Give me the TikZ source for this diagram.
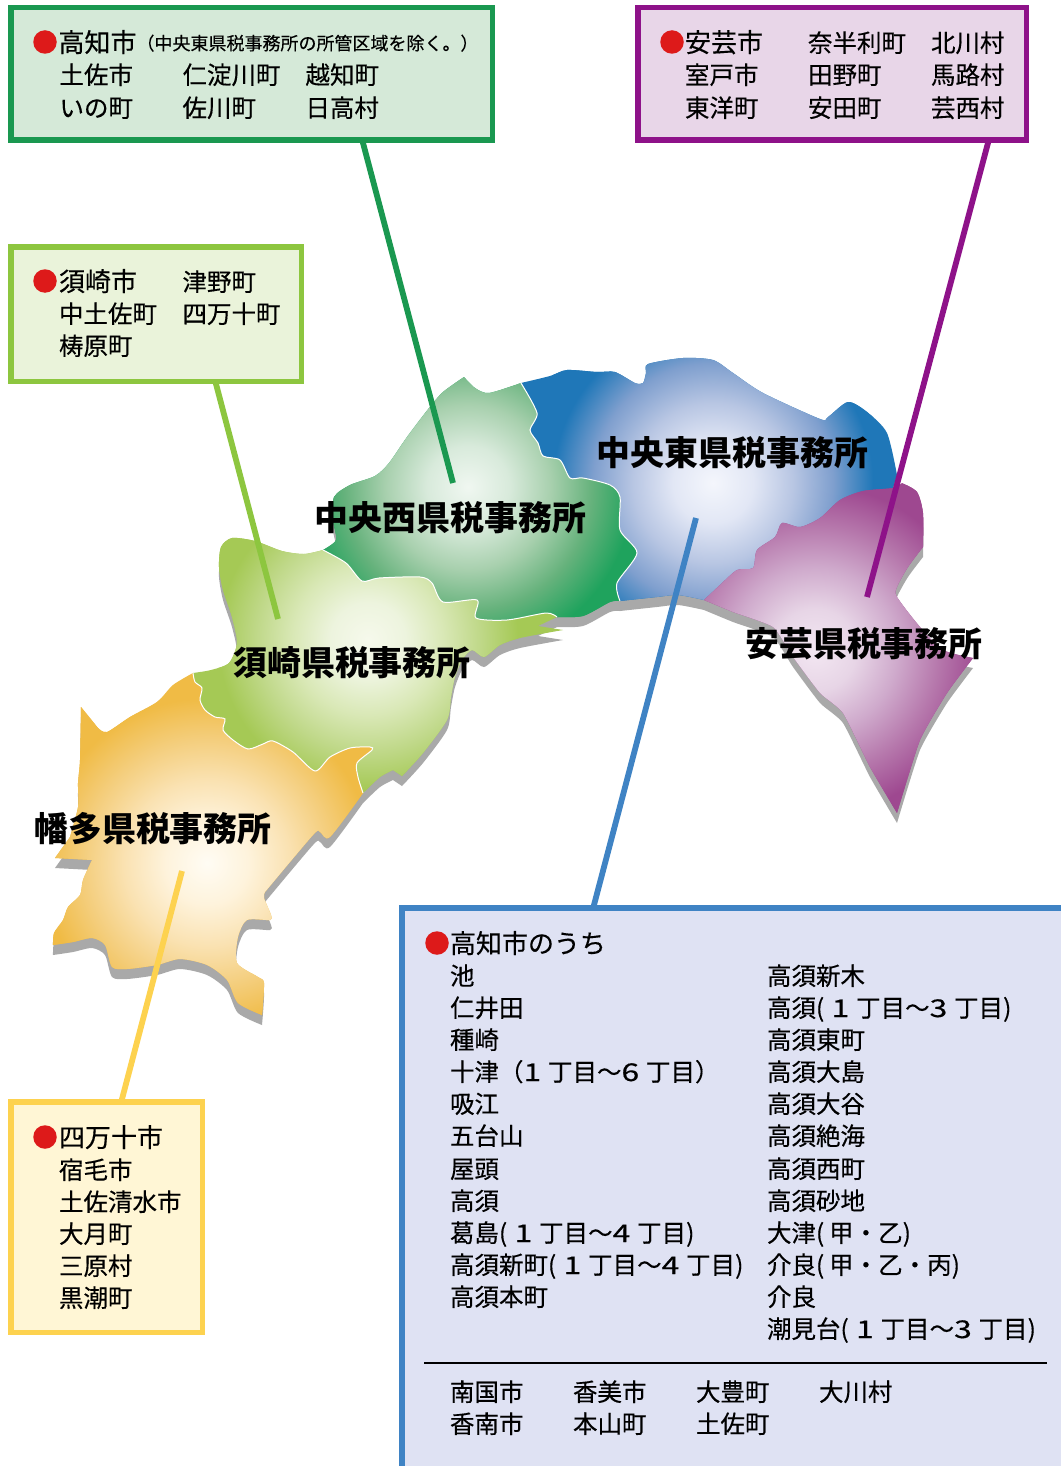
\documentclass[tikz,border=0pt]{standalone}
\usepackage{fontspec}
\setmainfont{Noto Sans CJK JP}[UprightFeatures={FakeBold=0.35}]
\definecolor{cG}{HTML}{1A9850}\definecolor{fG}{HTML}{D5E9D8}
\definecolor{cM}{HTML}{8E1289}\definecolor{fM}{HTML}{E8D6E8}
\definecolor{cY}{HTML}{8DC63F}\definecolor{fY}{HTML}{EAF3DA}
\definecolor{cO}{HTML}{FDD24F}\definecolor{fO}{HTML}{FFF6D5}
\definecolor{cB}{HTML}{3F83C4}\definecolor{fB}{HTML}{DFE2F3}
\definecolor{dotred}{HTML}{DD1A1A}\definecolor{shadowgray}{HTML}{A9A9A9}
% shadings
\definecolor{b0}{HTML}{F4F6FC}\definecolor{b1}{HTML}{E2E7F5}\definecolor{b2}{HTML}{B8C6E3}\definecolor{b3}{HTML}{7F9FCE}\definecolor{b4}{HTML}{1F77B8}
\definecolor{g0}{HTML}{F0F7F1}\definecolor{g1}{HTML}{D8EADB}\definecolor{g2}{HTML}{A8D0AE}\definecolor{g3}{HTML}{66B27C}\definecolor{g4}{HTML}{1FA35D}
\definecolor{s0}{HTML}{F6F9EC}\definecolor{s1}{HTML}{EDF4DE}\definecolor{s2}{HTML}{D9E8B6}\definecolor{s3}{HTML}{BFD888}\definecolor{s4}{HTML}{A5C955}
\definecolor{h0}{HTML}{FFFCF4}\definecolor{h1}{HTML}{FEF3DC}\definecolor{h2}{HTML}{FAE2B2}\definecolor{h3}{HTML}{F4CE7D}\definecolor{h4}{HTML}{F0BB45}
\definecolor{a0}{HTML}{F3E7F2}\definecolor{a1}{HTML}{E7D5E6}\definecolor{a2}{HTML}{CFAACC}\definecolor{a3}{HTML}{B678AC}\definecolor{a4}{HTML}{9E4890}
\newcommand\mkshade[2]{\pgfdeclareradialshading{#1}{\pgfpointorigin}{color(0bp)=(#20);color(6.25bp)=(#21);color(12.5bp)=(#22);color(18.75bp)=(#23);color(25bp)=(#24);color(50bp)=(#24)}}
\mkshade{shB}{b}\mkshade{shG}{g}\mkshade{shS}{s}\mkshade{shH}{h}\mkshade{shA}{a}
% shared borders
\def\bAB{(704,600) (720,585) (737,570) (753,568) (757,550) (775,537) (782,523) (800,527) (820,518) (840,500) (863,491) (893,488) (902,483)}
\def\bGB{(620,601) (617,583) (637,553) (620,530) (620,497) (610,485) (583,478) (570,478) (560,460) (543,456) (538,443) (530,430) (537,413) (521,383)}
\def\bSG{(557,617) (546,613) (507,620) (476,618) (477,600) (443,602) (432,583) (420,577) (379,578) (362,581) (346,563) (323,550)}
\def\bHS{(363,793) (358,777) (357,763) (372,750) (370,747) (350,748) (330,757) (315,771) (293,752) (273,741) (263,744) (248,749) (233,740) (223,730) (225,719) (215,717) (205,710) (200,700) (202,688) (195,682) (193,673)}
\tikzset{sm/.style={smooth,tension=0.45}}
% region outlines
\edef\pBlue{plot[sm] coordinates{(521,383) (550,376) (567,370) (597,372) (615,372) (635,383) (643,383) (646,373) (648,364) (683,358) (713,360) (733,373) (763,393) (820,419) (828,417) (848,402) (867,412) (887,433) (897,475)} -- (893,488) -- (880,520) -- (780,560) -- (720,595) -- (704,600) -- plot[sm] coordinates{(704,600) (678,595) (657,597) (620,601)} -- (612,598) -- (560,560) -- (510,450) -- cycle}
\edef\pAki{plot[sm] coordinates{\bAB} -- plot[sm] coordinates{(902,483) (917,492) (923,513) (923,547)} -- plot[sm] coordinates{(923,547) (908,567) (897,587) (897,597) (920,627) (943,650) (973,658)} -- plot[sm,tension=0.3] coordinates{(973,658) (947,693) (920,740) (897,813)} -- plot[sm,tension=0.3] coordinates{(897,813) (870,767) (843,713) (820,693) (793,657) (773,627) (733,612) (704,600)} -- cycle}
\edef\pGreen{plot[sm] coordinates{(521,383) (489,393) (475,388) (464,377)} -- plot[sm] coordinates{(464,377) (443,392) (429,408) (407,437) (389,463) (375,476) (350,485) (334,497) (333,520) (336,540) (323,550)} -- (350,590) -- (450,625) -- (530,625) -- (557,617) -- plot[sm] coordinates{(557,617) (583,616) (610,602) (620,601)} -- plot[sm] coordinates{\bGB} -- cycle}
\edef\pSusaki{plot[sm] coordinates{(323,550) (304,554) (282,551) (255,541) (232,538) (221,547) (219,567) (223,590) (232,617) (237,643) (229,663) (211,670) (193,673)} -- (190,720) -- (250,770) -- (300,800) -- (363,793) -- plot[sm] coordinates{(363,793) (380,777) (393,770)} -- (402,776) -- plot[sm] coordinates{(402,776) (423,753) (447,720) (451,697) (455,677) (462,660) (472,650) (484,657) (500,645) (520,638) (563,630)} -- (538,626) -- plot[sm] coordinates{\bSG} -- cycle}
\edef\pHata{plot[sm] coordinates{(193,673) (173,685) (157,702) (130,717) (107,732) (98,728)} -- (81,707) -- plot[sm] coordinates{(81,707) (80,760) (78,783) (78,807) (70,837)} -- (55,858) -- (92,860) -- plot[sm] coordinates{(92,860) (83,880) (80,895) (68,907) (63,920) (54,933) (53,945)} -- plot[sm] coordinates{(53,945) (73,942) (92,938) (105,945) (112,967) (127,969) (157,965) (180,959) (207,965) (227,980) (238,1003) (262,1015)} -- plot[sm] coordinates{(262,1015) (264,983) (258,977) (237,963) (238,937) (247,920) (270,920) (271,915) (264,898) (265,892)} -- plot[sm] coordinates{(265,892) (313,835) (320,832) (330,837) (363,793)} -- plot[sm] coordinates{\bHS} -- cycle}
\newcommand\region[6]{\fill[#6] #1;\begin{scope}\clip #1;\shade[shading=#2] ({#3-#5},{#4-#5}) rectangle ({#3+#5},{#4+#5});\end{scope}}
\newcommand\Dg[1]{\makebox[1em][l]{\scalebox{1.3}[1]{#1}}}
\newcommand\Ch[2]{(\hspace{.3em}\Dg{#1}丁目〜\Dg{#2}丁目)}
\begin{document}
\begin{tikzpicture}[x=1pt,y=-1pt,
  box/.style={draw,line width=5.5pt,inner sep=0pt,outer sep=0pt},
  link/.style={line width=5.8pt},
  txt/.style={anchor=base west,inner sep=0pt,outer sep=0pt,font=\fontsize{24.5}{30}\selectfont,text=black},
  head/.style={txt,font=\fontsize{26}{30}\selectfont},
  small/.style={txt,font=\fontsize{18}{22}\selectfont},
  office/.style={inner sep=0pt,outer sep=0pt,font=\fontsize{33.9}{40}\selectfont\bfseries,text=black},
  reddot/.style={circle,fill=dotred,inner sep=0pt,outer sep=0pt,minimum size=23.5pt}]
\useasboundingbox (0,0) rectangle (1061,1466);
\fill[white] (0,0) rectangle (1061,1466);
% shadow
\begin{scope}[yshift=-10pt]
\fill[shadowgray] \pBlue; \fill[shadowgray] \pAki; \fill[shadowgray] \pGreen; \fill[shadowgray] \pSusaki; \fill[shadowgray] \pHata;
\end{scope}
% regions
\region{\pBlue}{shB}{713}{483}{160}{b4}
\region{\pAki}{shA}{815}{650}{165}{a4}
\region{\pGreen}{shG}{468}{487}{165}{g4}
\region{\pSusaki}{shS}{368}{640}{150}{s4}
\region{\pHata}{shH}{207}{863}{165}{h4}
\draw[white,line width=1pt] plot[sm] coordinates{(620,601) (617,583) (637,553) (620,530) (620,497) (610,485) (583,478) (570,478) (560,460) (543,456) (538,443) (530,430) (537,413) (521,383)};
\draw[white,line width=1pt] plot[sm] coordinates{(557,617) (546,613) (507,620) (476,618) (477,600) (443,602) (432,583) (420,577) (379,578) (362,581) (346,563) (323,550)};
\draw[white,line width=1pt] plot[sm] coordinates{(363,793) (358,777) (357,763) (372,750) (370,747) (350,748) (330,757) (315,771) (293,752) (273,741) (263,744) (248,749) (233,740) (223,730) (225,719) (215,717) (205,710) (200,700) (202,688) (195,682) (193,673)};
% boxes
\node[box,draw=cG,fill=fG,minimum width=481.5pt,minimum height=132.5pt] (boxG) at (251.5,74) {};
\node[box,draw=cM,fill=fM,minimum width=388.5pt,minimum height=132.5pt] (boxM) at (832,74) {};
\node[box,draw=cY,fill=fY,minimum width=290.5pt,minimum height=134.5pt] (boxY) at (156,314) {};
\node[box,draw=cO,fill=fO,minimum width=191.5pt,minimum height=230.5pt] (boxO) at (106.5,1217) {};
\node[inner sep=0pt,outer sep=0pt,fill=fB,minimum width=659pt,minimum height=558pt] (boxB) at (731.5,1187) {};
\draw[cB,line width=6pt] (boxB.south west) -- (boxB.north west) -- (boxB.north east);
% connector ends
\coordinate (endG) at (453,483);
\coordinate (endM) at (867,597);
\coordinate (endY) at (278,619);
\coordinate (endO) at (182,871);
\coordinate (endB) at (696,518);
\draw[link,cG] ([xshift=110.8pt]boxG.south) -- (endG);
\draw[link,cM] ([xshift=156.7pt]boxM.south) -- (endM);
\draw[link,cY] ([xshift=59.3pt]boxY.south) -- (endY);
\draw[link,cO] ([xshift=14.8pt]boxO.north) -- (endO);
\draw[link,cB] ([xshift=-138.3pt]boxB.north) -- (endB);
% office labels
\node[office] (lG) at (450.5,518) {中央西県税事務所};
\node[office] (lB) at (732.5,453) {中央東県税事務所};
\node[office] (lS) at (352,663) {須崎県税事務所};
\node[office] (lA) at (864,644) {安芸県税事務所};
\node[office] (lH) at (153,829) {幡多県税事務所};
% box G
\node[reddot] (dG) at (45,42) {};
\node[head] (g11) at (58.5,52) {高知市};
\node[small] (g12) at (136.5,50) {（中央東県税事務所の所管区域を除く。）};
\node[txt] (g21) at (59.5,84) {土佐市};
\node[txt] (g22) at (182.5,84) {仁淀川町};
\node[txt] (g23) at (305.5,84) {越知町};
\node[txt] (g31) at (59.5,117) {いの町};
\node[txt] (g32) at (182.5,117) {佐川町};
\node[txt] (g33) at (305.5,117) {日高村};
% box M
\node[reddot] (dM) at (672,42) {};
\node[head] (m11) at (685,52) {安芸市};
\node[txt] (m12) at (808,52) {奈半利町};
\node[txt] (m13) at (931,52) {北川村};
\node[txt] (m21) at (685,84) {室戸市};
\node[txt] (m22) at (808,84) {田野町};
\node[txt] (m23) at (931,84) {馬路村};
\node[txt] (m31) at (685,117) {東洋町};
\node[txt] (m32) at (808,117) {安田町};
\node[txt] (m33) at (931,117) {芸西村};
% box Y
\node[reddot] (dY) at (45,281) {};
\node[head] (y11) at (59,291) {須崎市};
\node[txt] (y12) at (182.5,291) {津野町};
\node[txt] (y21) at (59,323) {中土佐町};
\node[txt] (y22) at (182.5,323) {四万十町};
\node[txt] (y31) at (59,355) {梼原町};
% box O
\node[reddot] (dO) at (45,1137) {};
\node[head] (o1) at (59,1147) {四万十市};
\node[txt] (o2) at (59,1179) {宿毛市};
\node[txt] (o3) at (59,1211) {土佐清水市};
\node[txt] (o4) at (59,1243) {大月町};
\node[txt] (o5) at (59,1275) {三原村};
\node[txt] (o6) at (59,1307) {黒潮町};
% box B
\node[reddot] (dB) at (437,943) {};
\node[head] (b0) at (450,953) {高知市のうち};
\node[txt] (l1) at (450,985) {池};
\node[txt] (l2) at (450,1017) {仁井田};
\node[txt] (l3) at (450,1049) {種崎};
\node[txt] (l4) at (450,1081) {十津（\Dg{1}丁目〜\Dg{6}丁目）};
\node[txt] (l5) at (450,1113) {吸江};
\node[txt] (l6) at (450,1145) {五台山};
\node[txt] (l7) at (450,1178) {屋頭};
\node[txt] (l8) at (450,1210) {高須};
\node[txt] (l9) at (450,1242) {葛島\Ch{1}{4}};
\node[txt] (l10) at (450,1274) {高須新町\Ch{1}{4}};
\node[txt] (l11) at (450,1306) {高須本町};
\node[txt] (r1) at (767,985) {高須新木};
\node[txt] (r2) at (767,1017) {高須\Ch{1}{3}};
\node[txt] (r3) at (767,1049) {高須東町};
\node[txt] (r4) at (767,1081) {高須大島};
\node[txt] (r5) at (767,1113) {高須大谷};
\node[txt] (r6) at (767,1145) {高須絶海};
\node[txt] (r7) at (767,1178) {高須西町};
\node[txt] (r8) at (767,1210) {高須砂地};
\node[txt] (r9) at (767,1242) {大津(\hspace{.2em}甲・乙)};
\node[txt] (r10) at (767,1274) {介良(\hspace{.2em}甲・乙・丙)};
\node[txt] (r11) at (767,1306) {介良};
\node[txt] (r12) at (767,1338) {潮見台\Ch{1}{3}};
\coordinate (ruleL) at (424,1363);
\coordinate (ruleR) at (1047,1363);
\draw[black,line width=2.5pt] (ruleL) -- (ruleR);
\node[txt] (c11) at (450,1401) {南国市};
\node[txt] (c12) at (573,1401) {香美市};
\node[txt] (c13) at (696,1401) {大豊町};
\node[txt] (c14) at (819,1401) {大川村};
\node[txt] (c21) at (450,1433) {香南市};
\node[txt] (c22) at (573,1433) {本山町};
\node[txt] (c23) at (696,1433) {土佐町};
\end{tikzpicture}
\end{document}
